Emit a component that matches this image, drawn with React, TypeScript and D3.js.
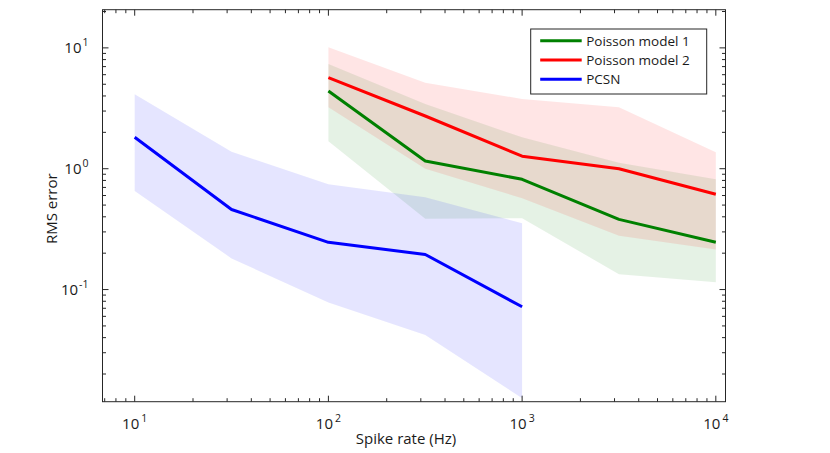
import * as d3 from "d3";

// spike rates (Hz) and RMS error
const pcsnRate = [10, 31.62, 100, 316.2, 1000];
const pcsnMean = [1.82, 0.46, 0.246, 0.195, 0.072];
const pcsnUpper = [4.13, 1.38, 0.743, 0.58, 0.353];
const pcsnLower = [0.653, 0.181, 0.078, 0.042, 0.0126];

const poissonRate = [100, 316.2, 1000, 3162, 10000];
const p1Mean = [4.4, 1.16, 0.817, 0.381, 0.246];
const p1Upper = [7.36, 3.43, 1.82, 1.12, 0.817];
const p1Lower = [1.69, 0.386, 0.389, 0.134, 0.115];
const p2Mean = [5.67, 2.73, 1.27, 1.0, 0.614];
const p2Upper = [10.1, 5.15, 3.78, 3.22, 1.37];
const p2Lower = [3.22, 1.0, 0.569, 0.279, 0.215];

const xLimits = [6.82, 11220];
const yLimits = [0.0118, 20.7];
const xMajor = [1, 2, 3, 4];
const yMajor = [-1, 0, 1];

const legendItems = [
  { label: "Poisson model 1", color: "rgb(0,128,0)" },
  { label: "Poisson model 2", color: "rgb(255,0,0)" },
  { label: "PCSN", color: "rgb(0,0,255)" },
];

const width = 830;
const height = 453;
const marginLeft = 102.5;
const marginRight = 104.5;
const marginTop = 9.7;
const marginBottom = 51.3;
const font = "'Open Sans', sans-serif";

function minorTicks(lo: number, hi: number) {
  const out: { v: number; major: boolean }[] = [];
  for (let e = Math.floor(Math.log10(lo)); e <= Math.ceil(Math.log10(hi)); e++) {
    for (let m = 1; m <= 9; m++) {
      const v = m * Math.pow(10, e);
      if (v >= lo && v <= hi) out.push({ v, major: m === 1 });
    }
  }
  return out;
}

export default function App() {
  const x = d3.scaleLog().domain(xLimits).range([marginLeft, width - marginRight]);
  const y = d3.scaleLog().domain(yLimits).range([height - marginBottom, marginTop]);
  const [x0, x1] = x.range();
  const [y0, y1] = y.range();

  const band = (rate: number[], lo: number[], hi: number[]) =>
    d3
      .area<number>()
      .x((i) => x(rate[i]))
      .y0((i) => y(lo[i]))
      .y1((i) => y(hi[i]))(d3.range(rate.length));
  const line = (rate: number[], v: number[]) =>
    d3
      .line<number>()
      .x((i) => x(rate[i]))
      .y((i) => y(v[i]))(d3.range(rate.length));

  const xt = minorTicks(xLimits[0], xLimits[1]);
  const yt = minorTicks(yLimits[0], yLimits[1]);

  return (
    <svg
      width={width}
      height={height}
      style={{ position: "absolute", left: 0, top: 0, background: "white" }}
      fontFamily={font}
    >
      {/* bands */}
      <path d={band(poissonRate, p1Lower, p1Upper)!} fill="rgb(0,128,0)" fillOpacity={0.1} />
      <path d={band(poissonRate, p2Lower, p2Upper)!} fill="rgb(255,0,0)" fillOpacity={0.1} />
      <path d={band(pcsnRate, pcsnLower, pcsnUpper)!} fill="rgb(0,0,255)" fillOpacity={0.1} />

      {/* mean lines */}
      <g fill="none" strokeWidth={3} strokeLinejoin="round">
        <path d={line(poissonRate, p1Mean)!} stroke="rgb(0,128,0)" />
        <path d={line(poissonRate, p2Mean)!} stroke="rgb(255,0,0)" />
        <path d={line(pcsnRate, pcsnMean)!} stroke="rgb(0,0,255)" />
      </g>

      {/* box and ticks */}
      <g stroke="#262626" strokeWidth={1} fill="none">
        <rect x={x0} y={y1} width={x1 - x0} height={y0 - y1} />
        {xt.map((t, i) => {
          const len = t.major ? 6 : 3.5;
          return (
            <g key={i}>
              <line x1={x(t.v)} x2={x(t.v)} y1={y0} y2={y0 - len} />
              <line x1={x(t.v)} x2={x(t.v)} y1={y1} y2={y1 + len} />
            </g>
          );
        })}
        {yt.map((t, i) => {
          const len = t.major ? 6 : 3.5;
          return (
            <g key={i}>
              <line x1={x0} x2={x0 + len} y1={y(t.v)} y2={y(t.v)} />
              <line x1={x1} x2={x1 - len} y1={y(t.v)} y2={y(t.v)} />
            </g>
          );
        })}
      </g>

      {/* tick labels */}
      <g fontSize={15} fill="#1a1a1a">
        {xMajor.map((e) => (
          <text key={e} x={x(Math.pow(10, e))} y={y0 + 27} textAnchor="middle">
            10
            <tspan dy={-7} dx={2} fontSize={10.5}>
              {e}
            </tspan>
          </text>
        ))}
        {yMajor.map((e) => (
          <text key={e} x={x0 - 14} y={y(Math.pow(10, e)) + 5} textAnchor="end">
            10
            <tspan dy={-7} dx={1} fontSize={10.5}>
              {e < 0 ? "-" + -e : e}
            </tspan>
          </text>
        ))}
      </g>

      {/* axis labels */}
      <text x={406} y={444} fontSize={15} textAnchor="middle" fill="#1a1a1a">
        Spike rate (Hz)
      </text>
      <text
        transform={`translate(57,${(y0 + y1) / 2 + 3}) rotate(-90)`}
        fontSize={15}
        textAnchor="middle"
        fill="#1a1a1a"
      >
        RMS error
      </text>

      {/* legend */}
      <g transform="translate(530.7,29)">
        <rect width={176} height={65} fill="white" stroke="#262626" strokeWidth={1} />
        {legendItems.map((d, i) => (
          <g key={d.label} transform={`translate(0,${11.7 + i * 19.3})`}>
            <line x1={9.5} x2={51} stroke={d.color} strokeWidth={3} />
            <text x={55.5} y={5} fontSize={13.5} fill="#1a1a1a">
              {d.label}
            </text>
          </g>
        ))}
      </g>
    </svg>
  );
}
